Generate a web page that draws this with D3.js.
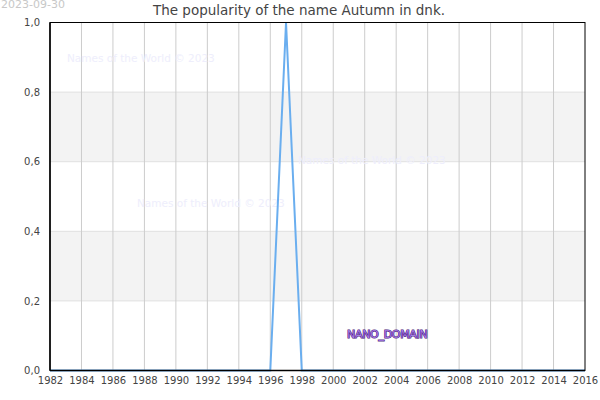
<!DOCTYPE html>
<html><head><meta charset="utf-8">
<script src="https://cdn.jsdelivr.net/npm/d3@7"></script>
<style>body{margin:0;background:#fff}svg{display:block;font-family:"DejaVu Sans",sans-serif}</style>
</head><body><svg id="c" width="600" height="400"></svg>
<script>
const years = [1982,1983,1984,1985,1986,1987,1988,1989,1990,1991,1992,1993,1994,1995,1996,1997,1998,1999,2000,2001,2002,2003,2004,2005,2006,2007,2008,2009,2010,2011,2012,2013,2014,2015,2016];
const values = [0,0,0,0,0,0,0,0,0,0,0,0,0,0,0,1,0,0,0,0,0,0,0,0,0,0,0,0,0,0,0,0,0,0,0];
const xTicks = [1982,1984,1986,1988,1990,1992,1994,1996,1998,2000,2002,2004,2006,2008,2010,2012,2014,2016];
const yTicks = [0,0.2,0.4,0.6,0.8,1.0];
const bands = [[0.2,0.4],[0.6,0.8]];
const title = "The popularity of the name Autumn in dnk.";
const dateLabel = "2023-09-30";
const watermark = "Names of the World © 2023";

const svg = d3.select("#c");
const L=50,R=585,T=22.5,B=370.5;
const x = d3.scaleLinear().domain([1982,2016]).range([L,R]);
const y = d3.scaleLinear().domain([0,1]).range([B,T]);

svg.selectAll("rect.band").data(bands).join("rect").attr("class","band")
  .attr("x",L).attr("width",R-L).attr("y",d=>y(d[1])).attr("height",d=>y(d[0])-y(d[1])).attr("fill","#f3f3f3");
svg.selectAll("line.hg").data(yTicks.slice(1,-1)).join("line").attr("class","hg")
  .attr("x1",L).attr("x2",R).attr("y1",d=>y(d)).attr("y2",d=>y(d)).attr("stroke","#e0e0e0").attr("stroke-width",1);
svg.selectAll("line.vg").data(xTicks.slice(1,-1)).join("line").attr("class","vg")
  .attr("x1",d=>x(d)).attr("x2",d=>x(d)).attr("y1",T).attr("y2",B).attr("stroke","#cccccc").attr("stroke-width",1);

// watermarks
const wm=[[67,62],[137,207],[298,164]];
svg.selectAll("text.wm").data(wm).join("text").attr("class","wm")
  .attr("x",d=>d[0]).attr("y",d=>d[1]).attr("font-size",10.5).attr("fill","#eeeefc").text(watermark);

// line
svg.append("path").datum(years.map((yr,i)=>[yr,values[i]]))
  .attr("d",d3.line().x(d=>x(d[0])).y(d=>y(d[1])))
  .attr("fill","none").attr("stroke","#6aaeef").attr("stroke-width",2);

// frame
svg.append("rect").attr("x",L).attr("y",T).attr("width",R-L).attr("height",B-T)
  .attr("fill","none").attr("stroke","#000").attr("stroke-width",1);
svg.append("line").attr("x1",L).attr("x2",L).attr("y1",T).attr("y2",B).attr("stroke","#000").attr("stroke-width",1.5);
svg.append("line").attr("x1",L).attr("x2",R).attr("y1",B).attr("y2",B).attr("stroke","#000").attr("stroke-width",1.5);

// axes
const fmt = d=>d3.format(".1f")(d).replace(".",",");
const ya = svg.append("g").attr("transform",`translate(${L},0)`)
  .call(d3.axisLeft(y).tickValues(yTicks).tickFormat(fmt).tickSize(0).tickPadding(10));
ya.select(".domain").remove();
ya.selectAll("text").attr("font-size",10).attr("fill","#444").attr("font-family","DejaVu Sans");
const xa = svg.append("g").attr("transform",`translate(0,${B})`)
  .call(d3.axisBottom(x).tickValues(xTicks).tickFormat(d3.format("d")).tickSize(0).tickPadding(6));
xa.select(".domain").remove();
xa.selectAll("text").attr("font-size",10).attr("fill","#444").attr("font-family","DejaVu Sans");

svg.append("text").attr("x",299).attr("y",15).attr("text-anchor","middle").attr("font-size",13.5).attr("fill","#444").text(title);
svg.append("text").attr("x",1).attr("y",8).attr("font-size",11).attr("fill","#c8c8c8").text(dateLabel);

svg.append("text").attr("x",347).attr("y",338).attr("font-size",11)
  .attr("fill","#a67be6").attr("stroke","#4b1a7a").attr("stroke-width",1.2).attr("paint-order","stroke")
  .attr("letter-spacing","-0.3").text("NANO_DOMAIN");
</script></body></html>
